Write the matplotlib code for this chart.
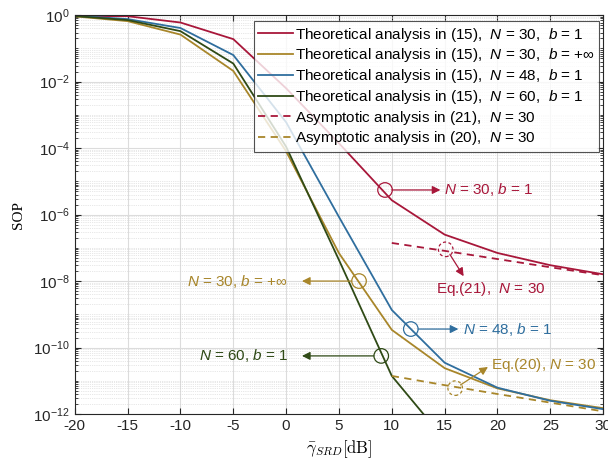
import numpy as np
import matplotlib
matplotlib.use('Agg')
import matplotlib.pyplot as plt
from matplotlib.ticker import LogLocator, NullFormatter, FixedLocator, FuncFormatter

plt.rcParams['font.family'] = ['Liberation Sans', 'DejaVu Sans']
plt.rcParams['mathtext.fontset'] = 'custom'
plt.rcParams['mathtext.rm'] = 'Liberation Sans'
plt.rcParams['mathtext.it'] = 'Liberation Sans:italic'
plt.rcParams['mathtext.bf'] = 'Liberation Sans:bold'

# data
snr = [-20, -15, -10, -5, 0, 5, 10, 15, 20, 25, 30]
sop_n30_b1 = [0.95, 0.93, 0.6, 0.19, 6.3e-3, 1.4e-4, 2.7e-6, 2.5e-7, 7e-8, 3e-8, 1.6e-8]
sop_n30_binf = [0.92, 0.66, 0.26, 0.021, 8e-5, 6.9e-8, 3.4e-10, 2.4e-11, 5.9e-12, 2.6e-12, 1.5e-12]
sop_n48_b1 = [0.96, 0.76, 0.41, 0.063, 6e-4, 8.5e-7, 1.35e-9, 3.5e-11, 6.2e-12, 2.5e-12, 1.4e-12]
sop_n60_b1 = [0.94, 0.71, 0.33, 0.035, 1.1e-4, 4.3e-8, 1.4e-11, 1.7e-13]
asy_snr = [10, 15, 20, 25, 30]
asy21 = [1.4e-7, 8.1e-8, 4.6e-8, 2.6e-8, 1.5e-8]
asy20 = [1.4e-11, 7.4e-12, 4.0e-12, 2.2e-12, 1.2e-12]

red = '#A8173A'
gold = '#A8862A'
blue = '#2F6E9E'
green = '#2F4A16'

fig = plt.figure(figsize=(6.08, 4.59), dpi=100)
ax = fig.add_axes([0.123, 0.098, 0.869, 0.869])

lw = 1.3
ax.semilogy(snr, sop_n30_b1, color=red, lw=lw,
            label='Theoretical analysis in (15),  $N$ = 30,  $b$ = 1')
ax.semilogy(snr, sop_n30_binf, color=gold, lw=lw,
            label='Theoretical analysis in (15),  $N$ = 30,  $b$ = +$\\infty$')
ax.semilogy(snr, sop_n48_b1, color=blue, lw=lw,
            label='Theoretical analysis in (15),  $N$ = 48,  $b$ = 1')
ax.semilogy(snr[:len(sop_n60_b1)], sop_n60_b1, color=green, lw=lw,
            label='Theoretical analysis in (15),  $N$ = 60,  $b$ = 1')
ax.semilogy(asy_snr, asy21, color=red, lw=lw, ls=(0, (4, 3)),
            label='Asymptotic analysis in (21),  $N$ = 30')
ax.semilogy(asy_snr, asy20, color=gold, lw=lw, ls=(0, (4, 3)),
            label='Asymptotic analysis in (20),  $N$ = 30')

ax.set_xlim(-20, 30)
ax.set_ylim(1e-12, 1)
ax.set_xticks(range(-20, 31, 5))
ax.set_xticklabels([str(v) for v in range(-20, 31, 5)])
ax.yaxis.set_major_locator(FixedLocator([10.0 ** k for k in range(-12, 1, 2)]))
ax.yaxis.set_major_formatter(FuncFormatter(
    lambda v, p: '10$^{%d}$' % round(np.log10(v))))
ax.yaxis.set_minor_locator(LogLocator(base=10, subs=np.arange(1, 10), numticks=40))
ax.yaxis.set_minor_formatter(NullFormatter())
ax.tick_params(which='both', direction='in', top=True, right=True,
               labelsize=11, colors='#262626')
ax.tick_params(which='major', length=4)
ax.tick_params(which='minor', length=2)
ax.grid(True, which='major', color='#dcdcdc', lw=0.8)
ax.grid(True, which='minor', axis='y', color='#d0d0d0', lw=0.5, ls=':')
for s in ax.spines.values():
    s.set_color('#262626')

ax.set_ylabel('SOP', family='Liberation Serif', fontsize=11, labelpad=6)
ax.set_xlabel(r'$\bar{\gamma}_{SRD}[\mathrm{dB}]$', fontsize=12,
              math_fontfamily='cm', labelpad=4)

leg = ax.legend(loc='upper right', bbox_to_anchor=(0.993, 0.985), fontsize=11,
                frameon=True, fancybox=False, edgecolor='#262626',
                handlelength=2.3, handletextpad=0.1, labelspacing=0.18,
                borderpad=0.3, borderaxespad=0.0)
leg.get_frame().set_linewidth(0.8)


# annotations: circles, arrows and labels
def arrow(x0, y0, x1, y1, c):
    ax.annotate('', xy=(x1, y1), xytext=(x0, y0),
                arrowprops=dict(arrowstyle='-|>', color=c, lw=0.9,
                                mutation_scale=12, shrinkA=0, shrinkB=0))


def circle(x, y, c, dashed=False):
    ls = (0, (2.5, 2)) if dashed else 'solid'
    ax.scatter([x], [y], s=110, facecolors='none', edgecolors=c,
               linewidths=0.9, linestyles=ls, zorder=3)


circle(9.36, 5.5e-6, red)
arrow(10.0, 5.5e-6, 14.6, 5.5e-6, red)
ax.text(14.9, 5.5e-6, '$N$ = 30, $b$ = 1', color=red, fontsize=11, va='center')

circle(6.9, 1.0e-8, gold)
arrow(6.2, 1.0e-8, 1.5, 1.0e-8, gold)
ax.text(0.2, 1.0e-8, '$N$ = 30, $b$ = +$\\infty$', color=gold, fontsize=11,
        va='center', ha='right')

circle(11.8, 3.6e-10, blue)
arrow(12.5, 3.6e-10, 16.3, 3.6e-10, blue)
ax.text(16.7, 3.6e-10, '$N$ = 48, $b$ = 1', color=blue, fontsize=11, va='center')

circle(9.0, 5.6e-11, green)
arrow(8.3, 5.6e-11, 1.5, 5.6e-11, green)
ax.text(0.2, 5.6e-11, '$N$ = 60, $b$ = 1', color=green, fontsize=11,
        va='center', ha='right')

circle(15.1, 9.0e-8, red, dashed=True)
arrow(15.5, 6.3e-8, 16.8, 1.4e-8, red)
ax.text(19.4, 5.7e-9, 'Eq.(21),  $N$ = 30', color=red, fontsize=11,
        va='center', ha='center')

circle(16.0, 6.0e-12, gold, dashed=True)
arrow(16.5, 7.5e-12, 19.1, 2.6e-11, gold)
ax.text(19.4, 3.0e-11, 'Eq.(20), $N$ = 30', color=gold, fontsize=11, va='center')

fig.savefig('out.png', dpi=100)
